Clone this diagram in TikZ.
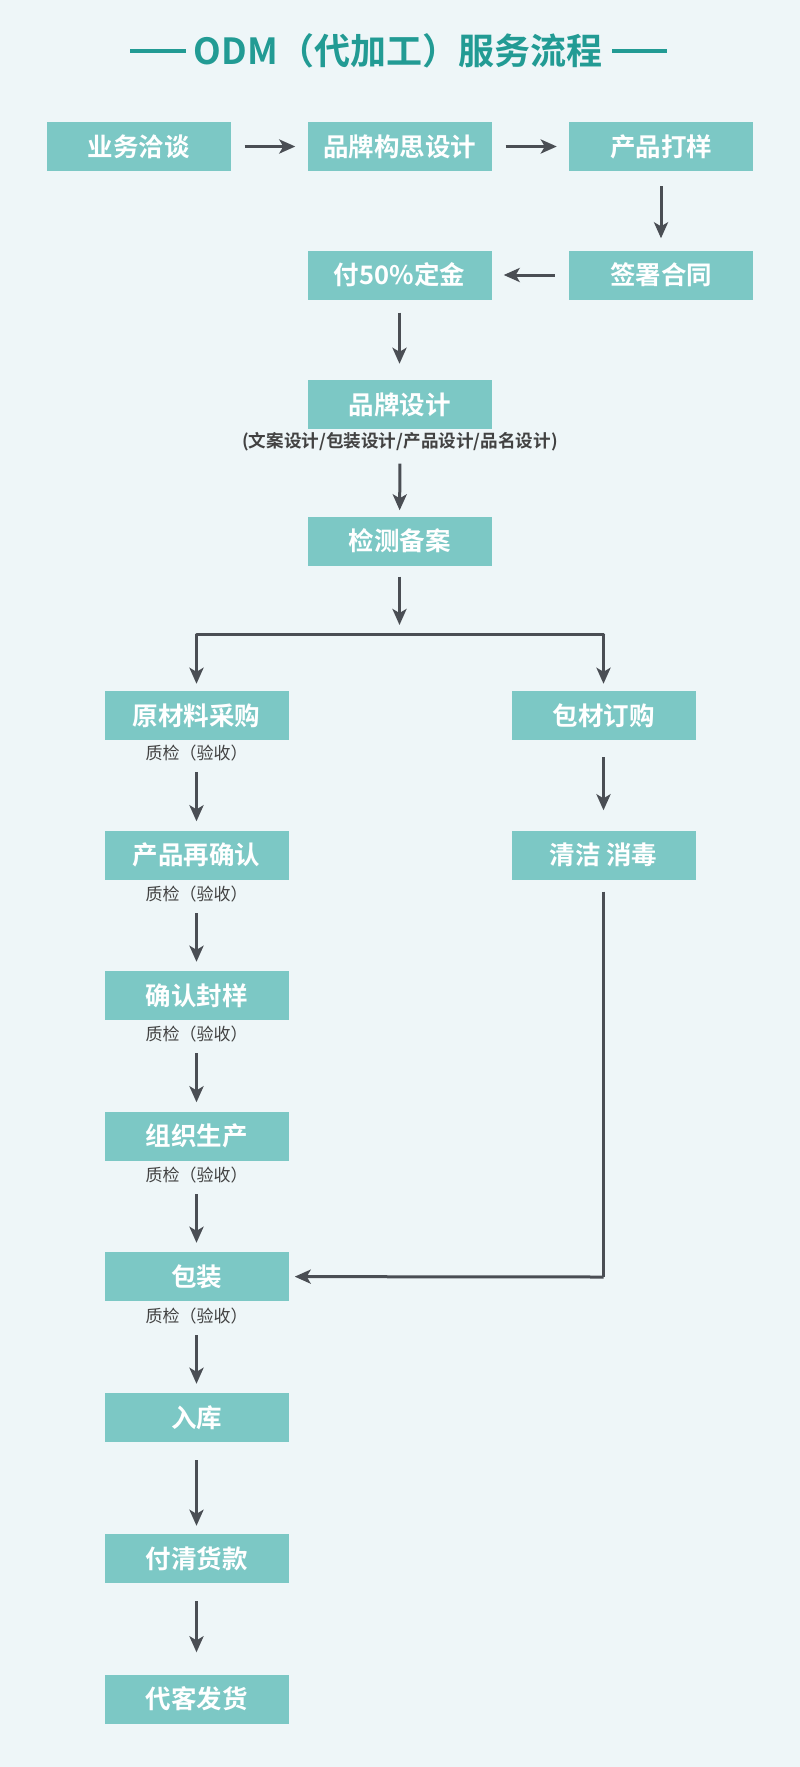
\documentclass[tikz,border=0pt]{standalone}
\usepackage{fontspec}
\setmainfont{Noto Sans CJK SC}[BoldFont={Noto Sans CJK SC Bold}]
\usetikzlibrary{arrows.meta}
\definecolor{bgc}{RGB}{238,246,248}
\definecolor{boxc}{RGB}{124,200,197}
\definecolor{titlec}{RGB}{34,155,148}
\definecolor{arrc}{RGB}{74,78,84}
\definecolor{txtc}{RGB}{66,66,66}
\tikzset{
  stepbox/.style={rectangle, fill=boxc, minimum width=184pt, minimum height=49pt, inner sep=0pt,
    text=white, font=\bfseries\fontsize{25.5}{25.5}\selectfont},
  qc/.style={text=txtc, inner sep=0pt, font=\fontsize{17}{17}\selectfont},
  flow/.style={draw=arrc, line width=3pt, line join=miter, -{Stealth[length=16pt,width=14pt,inset=4pt]}},
  plainline/.style={draw=arrc, line width=3pt},
}
\begin{document}
\begin{tikzpicture}[x=1pt,y=-1pt]
\fill[bgc] (0,0) rectangle (800,1767);
\useasboundingbox (0,0) rectangle (800,1767);
% title
\node[text=titlec, font=\bfseries\fontsize{36}{36}\selectfont, inner sep=0pt] (title) at (398,51) {ODM（代加工）服务流程};
\coordinate (tl1) at (130,51); \coordinate (tl2) at (186,51);
\coordinate (tr1) at (612,51); \coordinate (tr2) at (667,51);
\draw[titlec, line width=3.2pt] (tl1) -- (tl2);
\draw[titlec, line width=3.2pt] (tr1) -- (tr2);
% row 1
\node[stepbox] (b1) at (138.5,146.5) {业务洽谈};
\node[stepbox] (b2) at (399.5,146.5) {品牌构思设计};
\node[stepbox] (b3) at (661,146.5) {产品打样};
% row 2
\node[stepbox] (b5) at (399.5,275) {付50\%定金};
\node[stepbox] (b4) at (661,275) {签署合同};
% brand design
\node[stepbox] (b6) at (399.5,404.5) {品牌设计};
\node[text=txtc, inner sep=0pt, font=\bfseries\fontsize{17.6}{17.6}\selectfont] (sub) at (400,442) {(文案设计/包装设计/产品设计/品名设计)};
\node[stepbox] (b7) at (399.5,541) {检测备案};
% branch
\coordinate (jc) at (399.5,634);
\coordinate (jl) at (196.5,634);
\coordinate (jr) at (603.5,634);
% left column
\node[stepbox] (l1) at (196.5,715.5) {原材料采购};
\node[qc] (q1) at (196.5,753) {质检（验收）};
\node[stepbox] (l2) at (196.5,855) {产品再确认};
\node[qc] (q2) at (196.5,894) {质检（验收）};
\node[stepbox] (l3) at (196.5,995.5) {确认封样};
\node[qc] (q3) at (196.5,1034) {质检（验收）};
\node[stepbox] (l4) at (196.5,1136) {组织生产};
\node[qc] (q4) at (196.5,1175) {质检（验收）};
\node[stepbox] (l5) at (196.5,1276.5) {包装};
\node[qc] (q5) at (196.5,1316) {质检（验收）};
\node[stepbox] (l6) at (196.5,1417.5) {入库};
\node[stepbox] (l7) at (196.5,1558.5) {付清货款};
\node[stepbox] (l8) at (196.5,1699) {代客发货};
% right column
\node[stepbox] (r1) at (603.5,715.5) {包材订购};
\node[stepbox] (r2) at (603.5,855) {清洁 消毒};
\coordinate (rc) at (603.5,1277);
% arrows
\draw[flow, shorten <=14pt, shorten >=12pt] (b1) -- (b2);
\draw[flow, shorten <=14pt, shorten >=12pt] (b2) -- (b3);
\draw[flow, shorten <=15pt, shorten >=12pt] (b3) -- (b4);
\draw[flow, shorten <=14pt, shorten >=12pt] (b4) -- (b5);
\draw[flow, shorten <=13pt, shorten >=16pt] (b5) -- (b6);
\draw[flow, shorten <=12pt, shorten >=6pt] (sub) -- (b7);
\draw[flow, shorten <=11pt, shorten >=9pt] (b7) -- (jc);
\draw[plainline, line cap=round] (jl) -- (jr);
\draw[flow, shorten >=7pt] (jl) -- (l1);
\draw[flow, shorten >=7pt] (jr) -- (r1);
\draw[flow, shorten <=11pt, shorten >=9pt] (q1) -- (l2);
\draw[flow, shorten <=11pt, shorten >=9pt] (q2) -- (l3);
\draw[flow, shorten <=11pt, shorten >=9pt] (q3) -- (l4);
\draw[flow, shorten <=11pt, shorten >=9pt] (q4) -- (l5);
\draw[flow, shorten <=11pt, shorten >=9pt] (q5) -- (l6);
\draw[flow, shorten <=18pt, shorten >=8pt] (l6) -- (l7);
\draw[flow, shorten <=18pt, shorten >=22pt] (l7) -- (l8);
\draw[flow, shorten <=17pt, shorten >=20pt] (r1) -- (r2);
\draw[plainline, line cap=square, shorten <=12pt] (r2) -- (rc);
\draw[flow, shorten >=6pt] (rc) -- (l5);
\end{tikzpicture}
\end{document}
